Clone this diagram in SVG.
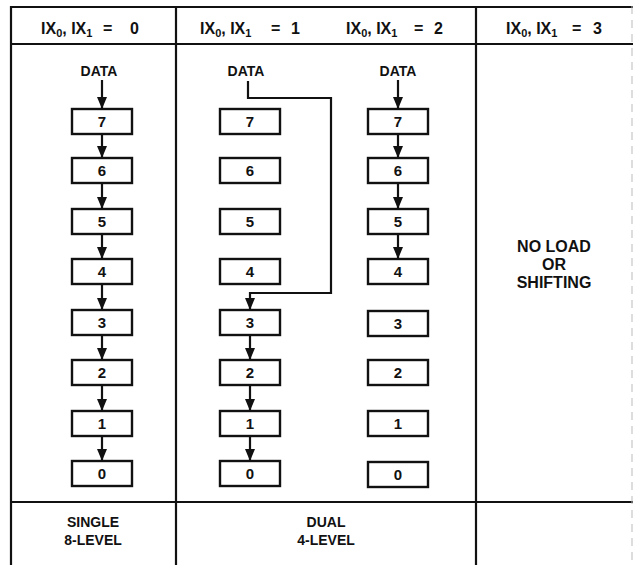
<svg xmlns="http://www.w3.org/2000/svg" width="633" height="565" viewBox="0 0 633 565">
<style>
text{font-family:"Liberation Sans",Arial,sans-serif;font-weight:bold;fill:#111}
.hd{font-size:16px}
.lb{font-size:14px;text-anchor:middle}
.nl{font-size:16px;text-anchor:middle}
.dg{font-size:15px;text-anchor:middle}
.bx{fill:#fff;stroke:#111;stroke-width:2.4}
.tb{stroke:#111;stroke-width:2.2;fill:none}
.cn{stroke:#111;stroke-width:2.2;fill:none}
.ar{stroke:#111;stroke-width:2.2;fill:none;marker-end:url(#ah)}
</style>
<defs>
<marker id="ah" markerUnits="userSpaceOnUse" markerWidth="12" markerHeight="10" refX="12" refY="5" orient="auto" viewBox="0 0 12 10">
<path d="M0,0 L12,5 L0,10 Z" fill="#111"/>
</marker>
</defs>
<rect width="633" height="565" fill="#fff"/>
<g id="table">
<line class="tb" x1="11" y1="7" x2="633" y2="7"/>
<line class="tb" x1="11" y1="44" x2="633" y2="44"/>
<line class="tb" x1="11" y1="502" x2="633" y2="502"/>
<line class="tb" x1="11" y1="6" x2="11" y2="565"/>
<line class="tb" x1="176" y1="6" x2="176" y2="565"/>
<line class="tb" x1="476" y1="6" x2="476" y2="565"/>
<line x1="632" y1="6" x2="632" y2="565" stroke="#bbb" stroke-width="1" stroke-dasharray="8 6"/>
</g>
<g id="headers">
<text class="hd" x="41" y="34">IX<tspan font-size="11" dy="3">0</tspan><tspan dy="-3">, IX</tspan><tspan font-size="11" dy="3">1</tspan></text><text class="hd" x="103" y="34">=</text><text class="hd" x="130" y="34">0</text>
<text class="hd" x="200" y="34">IX<tspan font-size="11" dy="3">0</tspan><tspan dy="-3">, IX</tspan><tspan font-size="11" dy="3">1</tspan></text><text class="hd" x="271" y="34">=</text><text class="hd" x="291" y="34">1</text>
<text class="hd" x="346" y="34">IX<tspan font-size="11" dy="3">0</tspan><tspan dy="-3">, IX</tspan><tspan font-size="11" dy="3">1</tspan></text><text class="hd" x="414" y="34">=</text><text class="hd" x="434" y="34">2</text>
<text class="hd" x="506" y="34">IX<tspan font-size="11" dy="3">0</tspan><tspan dy="-3">, IX</tspan><tspan font-size="11" dy="3">1</tspan></text><text class="hd" x="572" y="34">=</text><text class="hd" x="593" y="34">3</text>
</g>
<g id="connectors">
<line class="ar" x1="102" y1="80" x2="102" y2="109"/>
<line class="ar" x1="102" y1="134" x2="102" y2="158"/>
<line class="ar" x1="102" y1="183" x2="102" y2="209"/>
<line class="ar" x1="102" y1="234" x2="102" y2="259"/>
<line class="ar" x1="102" y1="284" x2="102" y2="310"/>
<line class="ar" x1="102" y1="335" x2="102" y2="360"/>
<line class="ar" x1="102" y1="385" x2="102" y2="411"/>
<line class="ar" x1="102" y1="436" x2="102" y2="461"/>
<path class="cn" d="M248,81 V98 H331 V293 H249"/>
<line class="ar" x1="250" y1="292" x2="250" y2="310"/>
<line class="ar" x1="250" y1="335" x2="250" y2="360"/>
<line class="ar" x1="250" y1="385" x2="250" y2="411"/>
<line class="ar" x1="250" y1="436" x2="250" y2="461"/>
<line class="ar" x1="398" y1="80" x2="398" y2="109"/>
<line class="ar" x1="398" y1="134" x2="398" y2="158"/>
<line class="ar" x1="398" y1="183" x2="398" y2="209"/>
<line class="ar" x1="398" y1="234" x2="398" y2="259"/>
</g>
<g id="data-labels">
<text class="lb" x="99" y="76">DATA</text>
<text class="lb" x="246" y="76">DATA</text>
<text class="lb" x="398" y="76">DATA</text>
</g>
<g id="col1">
<g id="c1-7"><rect class="bx" x="72" y="109" width="60" height="25"/><text class="dg" x="102" y="127">7</text></g>
<g id="c1-6"><rect class="bx" x="72" y="158" width="60" height="25"/><text class="dg" x="102" y="176">6</text></g>
<g id="c1-5"><rect class="bx" x="72" y="209" width="60" height="25"/><text class="dg" x="102" y="227">5</text></g>
<g id="c1-4"><rect class="bx" x="72" y="259" width="60" height="25"/><text class="dg" x="102" y="277">4</text></g>
<g id="c1-3"><rect class="bx" x="72" y="310" width="60" height="25"/><text class="dg" x="102" y="328">3</text></g>
<g id="c1-2"><rect class="bx" x="72" y="360" width="60" height="25"/><text class="dg" x="102" y="378">2</text></g>
<g id="c1-1"><rect class="bx" x="72" y="411" width="60" height="25"/><text class="dg" x="102" y="429">1</text></g>
<g id="c1-0"><rect class="bx" x="72" y="461" width="60" height="25"/><text class="dg" x="102" y="479">0</text></g>
</g>
<g id="col2">
<g id="c2-7"><rect class="bx" x="220" y="109" width="60" height="25"/><text class="dg" x="250" y="127">7</text></g>
<g id="c2-6"><rect class="bx" x="220" y="158" width="60" height="25"/><text class="dg" x="250" y="176">6</text></g>
<g id="c2-5"><rect class="bx" x="220" y="209" width="60" height="25"/><text class="dg" x="250" y="227">5</text></g>
<g id="c2-4"><rect class="bx" x="220" y="259" width="60" height="25"/><text class="dg" x="250" y="277">4</text></g>
<g id="c2-3"><rect class="bx" x="220" y="310" width="60" height="25"/><text class="dg" x="250" y="328">3</text></g>
<g id="c2-2"><rect class="bx" x="220" y="360" width="60" height="25"/><text class="dg" x="250" y="378">2</text></g>
<g id="c2-1"><rect class="bx" x="220" y="411" width="60" height="25"/><text class="dg" x="250" y="429">1</text></g>
<g id="c2-0"><rect class="bx" x="220" y="461" width="60" height="25"/><text class="dg" x="250" y="479">0</text></g>
</g>
<g id="col3">
<g id="c3-7"><rect class="bx" x="368" y="109" width="60" height="25"/><text class="dg" x="398" y="127">7</text></g>
<g id="c3-6"><rect class="bx" x="368" y="158" width="60" height="25"/><text class="dg" x="398" y="176">6</text></g>
<g id="c3-5"><rect class="bx" x="368" y="209" width="60" height="25"/><text class="dg" x="398" y="227">5</text></g>
<g id="c3-4"><rect class="bx" x="368" y="259" width="60" height="25"/><text class="dg" x="398" y="277">4</text></g>
<g id="c3-3"><rect class="bx" x="368" y="311" width="60" height="25"/><text class="dg" x="398" y="329">3</text></g>
<g id="c3-2"><rect class="bx" x="368" y="360" width="60" height="25"/><text class="dg" x="398" y="378">2</text></g>
<g id="c3-1"><rect class="bx" x="368" y="411" width="60" height="25"/><text class="dg" x="398" y="429">1</text></g>
<g id="c3-0"><rect class="bx" x="368" y="462" width="60" height="25"/><text class="dg" x="398" y="480">0</text></g>
</g>
<g id="no-load">
<text class="nl" x="554" y="252">NO LOAD</text>
<text class="nl" x="554" y="270">OR</text>
<text class="nl" x="554" y="288">SHIFTING</text>
</g>
<g id="footers">
<text class="lb" x="93" y="527">SINGLE</text>
<text class="lb" x="93" y="545">8-LEVEL</text>
<text class="lb" x="326" y="527">DUAL</text>
<text class="lb" x="326" y="545">4-LEVEL</text>
</g>
</svg>
